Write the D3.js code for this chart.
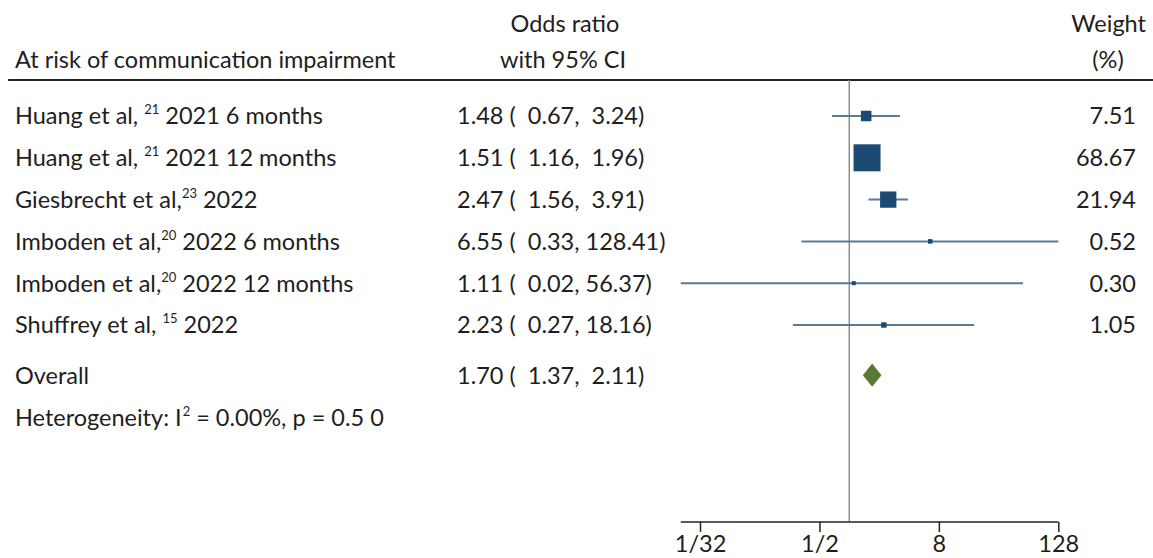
<!DOCTYPE html>
<html>
<head>
<meta charset="utf-8">
<script src="https://cdn.jsdelivr.net/npm/d3@7"></script>
<style>
    body { margin: 0; background: #fff; }
    svg text { font-family: Lato, "Noto Sans", sans-serif; fill: #1e1e1e; white-space: pre; }
</style>
</head>
<body>
<svg id="chart" width="1153" height="558"></svg>
<script>
// study data
const authors = ["Huang et al,", "Huang et al,", "Giesbrecht et al,", "Imboden et al,", "Imboden et al,", "Shuffrey et al,"];
const refs = ["21", "21", "23", "20", "20", "15"];
const details = ["2021 6 months", "2021 12 months", "2022", "2022 6 months", "2022 12 months", "2022"];
const oddsRatios = [1.48, 1.51, 2.47, 6.55, 1.11, 2.23];
const lowerCI = [0.67, 1.16, 1.56, 0.33, 0.02, 0.27];
const upperCI = [3.24, 1.96, 3.91, 128.41, 56.37, 18.16];
const weights = [7.51, 68.67, 21.94, 0.52, 0.30, 1.05];

const overall = {or: 1.70, lo: 1.37, hi: 2.11};
const tickValues = [1/32, 1/2, 8, 128];
const tickLabels = ["1/32", "1/2", "8", "128"];

const svg = d3.select("#chart");
const fontSize = 23.5;
const supSize = 13;

const x = d3.scaleLog().base(2).domain([1/32, 128]).range([700, 1058.3]);
const y = d3.scaleLinear().domain([0, 1]).range([116, 157.8]);
const boxSize = d3.scaleSqrt().domain([0, d3.max(weights)]).range([2.4, 27]);

const rows = authors.map((a, i) => ({
    author: a, ref: refs[i], detail: details[i],
    or: oddsRatios[i], lo: lowerCI[i], hi: upperCI[i], w: weights[i]
}));

function fmtCI(or, lo, hi) {
    return or.toFixed(2) + " (" + lo.toFixed(2).padStart(6) + ", " + hi.toFixed(2).padStart(5) + ")";
}

// headers
svg.append("text").attr("x", 565).attr("y", 32).attr("text-anchor", "middle").attr("font-size", fontSize).text("Odds ratio");
svg.append("text").attr("x", 563).attr("y", 68).attr("text-anchor", "middle").attr("font-size", fontSize).text("with 95% CI");
svg.append("text").attr("x", 15).attr("y", 68).attr("font-size", fontSize).text("At risk of communication impairment");
svg.append("text").attr("x", 1146).attr("y", 32).attr("text-anchor", "end").attr("font-size", fontSize).text("Weight");
svg.append("text").attr("x", 1108).attr("y", 68).attr("text-anchor", "middle").attr("font-size", fontSize).text("(%)");

svg.append("line")
    .attr("x1", 8).attr("x2", 1153).attr("y1", 80).attr("y2", 80)
    .attr("stroke", "#222").attr("stroke-width", 2);

// reference line at OR = 1
svg.append("line")
    .attr("x1", x(1)).attr("x2", x(1)).attr("y1", 80).attr("y2", 522)
    .attr("stroke", "#8c8c8c").attr("stroke-width", 1.5);

// study rows
const row = svg.selectAll(".study").data(rows).enter()
    .append("g").attr("class", "study")
    .attr("transform", (d, i) => "translate(0," + y(i) + ")");

const label = row.append("text").attr("x", 15).attr("dy", "0.36em").attr("font-size", fontSize);
label.append("tspan").text(d => d.author + (d.author.startsWith("Giesbrecht") || d.author.startsWith("Imboden") ? "" : " "));
label.append("tspan").attr("font-size", supSize).attr("dy", -10).text(d => d.ref);
label.append("tspan").attr("dy", 10).text(d => " " + d.detail);

row.append("text").attr("x", 457).attr("dy", "0.36em").attr("font-size", fontSize)
    .text(d => fmtCI(d.or, d.lo, d.hi));

row.append("text").attr("x", 1136).attr("dy", "0.36em").attr("text-anchor", "end").attr("font-size", fontSize)
    .text(d => d.w.toFixed(2));

row.append("line")
    .attr("x1", d => x(d.lo)).attr("x2", d => x(d.hi))
    .attr("stroke", "#5b7a96").attr("stroke-width", 2);

row.append("rect")
    .attr("x", d => x(d.or) - boxSize(d.w) / 2)
    .attr("y", d => -boxSize(d.w) / 2)
    .attr("width", d => boxSize(d.w))
    .attr("height", d => boxSize(d.w))
    .attr("fill", "#1b4a73");

// overall
const yo = y(6.2);
svg.append("text").attr("x", 15).attr("y", yo).attr("dy", "0.36em").attr("font-size", fontSize).text("Overall");
svg.append("text").attr("x", 457).attr("y", yo).attr("dy", "0.36em").attr("font-size", fontSize)
    .text(fmtCI(overall.or, overall.lo, overall.hi));
svg.append("path")
    .attr("d", "M" + x(overall.lo) + "," + yo + "L" + x(overall.or) + "," + (yo - 11.7) +
               "L" + x(overall.hi) + "," + yo + "L" + x(overall.or) + "," + (yo + 11.7) + "Z")
    .attr("fill", "#587a32");

const het = svg.append("text").attr("x", 15).attr("y", y(7.22)).attr("dy", "0.36em").attr("font-size", fontSize);
het.append("tspan").text("Heterogeneity: I");
het.append("tspan").attr("font-size", supSize).attr("dx", 1).attr("dy", -10).text("2");
het.append("tspan").attr("dy", 10).text(" = 0.00%, p = 0.5 0");

// axis
const axisMin = d3.min(lowerCI);
const axis = svg.append("g").attr("transform", "translate(0,522)")
    .call(d3.axisBottom(x).tickValues(tickValues).tickFormat((d, i) => tickLabels[i]).tickSize(10).tickSizeOuter(0));
axis.select(".domain").attr("d", "M" + x(axisMin) + ",0H" + x(128)).attr("stroke", "#222").attr("stroke-width", 1.5);
axis.selectAll(".tick line").attr("stroke", "#222").attr("stroke-width", 1.5);
axis.selectAll(".tick text").attr("font-size", fontSize).attr("font-family", "Lato, 'Noto Sans', sans-serif")
    .attr("fill", "#1e1e1e").attr("y", 13);
</script>
</body>
</html>
